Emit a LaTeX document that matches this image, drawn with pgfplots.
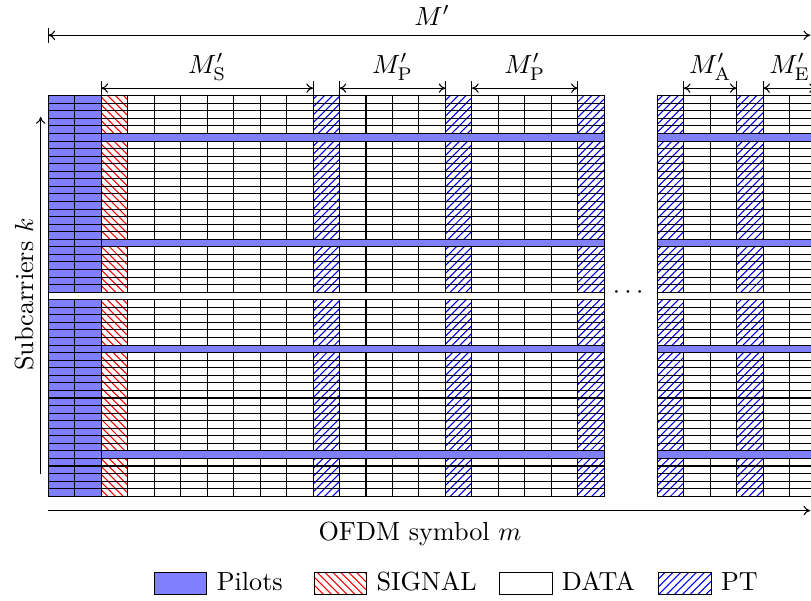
\documentclass[border=0pt]{standalone}
\usepackage{pgfplots}
\pgfplotsset{compat=1.18}
\usetikzlibrary{patterns,arrows.meta}
\definecolor{pilot}{RGB}{128,128,255}
\begin{document}
\begin{tikzpicture}[>={To[length=2.6pt,width=3.6pt]}]
\begin{axis}[
  scale only axis, width=309.6pt, height=229.4pt,
  xmin=-1.824, xmax=28.807, ymin=-13.853, ymax=65.666,
  hide axis, clip=true,
  unbounded coords=jump,
  every axis plot/.append style={thin, mark=none},
  legend columns=4,
  legend image code/.code={\draw[#1] (0pt,-4.2pt) rectangle (20pt,4.2pt);},
  legend style={draw=none, fill=none, inner sep=0pt, outer sep=0pt,
    at={(axis cs:3.99,-11.51)}, anchor=west,
    /tikz/every odd column/.append style={column sep=3.6pt},
    /tikz/column 2/.append style={column sep=11.8pt},
    /tikz/column 4/.append style={column sep=8.5pt},
    /tikz/column 6/.append style={column sep=8.8pt},
    nodes={inner sep=0pt, anchor=west}},
]
% ---- column fills ----
\addplot[forget plot, fill=pilot, draw=none] coordinates {(0,0) (2,0) (2,53) (0,53)} -- cycle;
\addplot[forget plot, draw=none, pattern=north west lines, pattern color=red] coordinates {(2,0) (3,0) (3,53) (2,53)} -- cycle;
\addplot[forget plot, draw=none, pattern=north east lines, pattern color=blue] coordinates {(10,0) (11,0) (11,53) (10,53)} -- cycle;
\addplot[forget plot, draw=none, pattern=north east lines, pattern color=blue] coordinates {(15,0) (16,0) (16,53) (15,53)} -- cycle;
\addplot[forget plot, draw=none, pattern=north east lines, pattern color=blue] coordinates {(20,0) (21,0) (21,53) (20,53)} -- cycle;
\addplot[forget plot, draw=none, pattern=north east lines, pattern color=blue] coordinates {(23,0) (24,0) (24,53) (23,53)} -- cycle;
\addplot[forget plot, draw=none, pattern=north east lines, pattern color=blue] coordinates {(26,0) (27,0) (27,53) (26,53)} -- cycle;
% ---- horizontal grid lines (subcarrier boundaries) ----
\addplot[forget plot, black] coordinates {
(0,0) (29,0) (nan,nan) (0,1) (29,1) (nan,nan) (0,2) (29,2) (nan,nan) (0,3) (29,3) (nan,nan)
(0,4) (29,4) (nan,nan) (0,5) (29,5) (nan,nan) (0,6) (29,6) (nan,nan) (0,7) (29,7) (nan,nan)
(0,8) (29,8) (nan,nan) (0,9) (29,9) (nan,nan) (0,10) (29,10) (nan,nan) (0,11) (29,11) (nan,nan)
(0,12) (29,12) (nan,nan) (0,13) (29,13) (nan,nan) (0,14) (29,14) (nan,nan) (0,15) (29,15) (nan,nan)
(0,16) (29,16) (nan,nan) (0,17) (29,17) (nan,nan) (0,18) (29,18) (nan,nan) (0,19) (29,19) (nan,nan)
(0,20) (29,20) (nan,nan) (0,21) (29,21) (nan,nan) (0,22) (29,22) (nan,nan) (0,23) (29,23) (nan,nan)
(0,24) (29,24) (nan,nan) (0,25) (29,25) (nan,nan) (0,26) (29,26) (nan,nan) (0,27) (29,27) (nan,nan)
(0,28) (29,28) (nan,nan) (0,29) (29,29) (nan,nan) (0,30) (29,30) (nan,nan) (0,31) (29,31) (nan,nan)
(0,32) (29,32) (nan,nan) (0,33) (29,33) (nan,nan) (0,34) (29,34) (nan,nan) (0,35) (29,35) (nan,nan)
(0,36) (29,36) (nan,nan) (0,37) (29,37) (nan,nan) (0,38) (29,38) (nan,nan) (0,39) (29,39) (nan,nan)
(0,40) (29,40) (nan,nan) (0,41) (29,41) (nan,nan) (0,42) (29,42) (nan,nan) (0,43) (29,43) (nan,nan)
(0,44) (29,44) (nan,nan) (0,45) (29,45) (nan,nan) (0,46) (29,46) (nan,nan) (0,47) (29,47) (nan,nan)
(0,48) (29,48) (nan,nan) (0,49) (29,49) (nan,nan) (0,50) (29,50) (nan,nan) (0,51) (29,51) (nan,nan)
(0,52) (29,52) (nan,nan) (0,53) (29,53)
};
% ---- gap between the two blocks ----
\addplot[forget plot, fill=white, draw=none] coordinates {(21.02,-0.5) (22.98,-0.5) (22.98,53.5) (21.02,53.5)} -- cycle;
% ---- vertical grid lines (OFDM symbol boundaries) ----
\addplot[forget plot, black] coordinates {
(0,0) (0,53) (nan,nan) (1,0) (1,53) (nan,nan) (2,0) (2,53) (nan,nan) (3,0) (3,53) (nan,nan)
(4,0) (4,53) (nan,nan) (5,0) (5,53) (nan,nan) (6,0) (6,53) (nan,nan) (7,0) (7,53) (nan,nan)
(8,0) (8,53) (nan,nan) (9,0) (9,53) (nan,nan) (10,0) (10,53) (nan,nan) (11,0) (11,53) (nan,nan)
(12,0) (12,53) (nan,nan) (13,0) (13,53) (nan,nan) (14,0) (14,53) (nan,nan) (15,0) (15,53) (nan,nan)
(16,0) (16,53) (nan,nan) (17,0) (17,53) (nan,nan) (18,0) (18,53) (nan,nan) (19,0) (19,53) (nan,nan)
(20,0) (20,53) (nan,nan) (21,0) (21,53) (nan,nan)
(23,0) (23,53) (nan,nan) (24,0) (24,53) (nan,nan) (25,0) (25,53) (nan,nan) (26,0) (26,53) (nan,nan)
(27,0) (27,53) (nan,nan) (28,0) (28,53) (nan,nan) (29,0) (29,53)
};
% ---- pilot subcarriers ----
\addplot[forget plot, fill=pilot, draw=black] coordinates {(2,5) (21,5) (21,6) (2,6)} -- cycle;
\addplot[forget plot, fill=pilot, draw=black] coordinates {(2,19) (21,19) (21,20) (2,20)} -- cycle;
\addplot[forget plot, fill=pilot, draw=black] coordinates {(2,33) (21,33) (21,34) (2,34)} -- cycle;
\addplot[forget plot, fill=pilot, draw=black] coordinates {(2,47) (21,47) (21,48) (2,48)} -- cycle;
\addplot[forget plot, fill=pilot, draw=black] coordinates {(23,5) (29.5,5) (29.5,6) (23,6)} -- cycle;
\addplot[forget plot, fill=pilot, draw=black] coordinates {(23,19) (29.5,19) (29.5,20) (23,20)} -- cycle;
\addplot[forget plot, fill=pilot, draw=black] coordinates {(23,33) (29.5,33) (29.5,34) (23,34)} -- cycle;
\addplot[forget plot, fill=pilot, draw=black] coordinates {(23,47) (29.5,47) (29.5,48) (23,48)} -- cycle;
% ---- DC subcarrier ----
\addplot[forget plot, fill=white, draw=black] coordinates {(0,26) (21,26) (21,27) (0,27)} -- cycle;
\addplot[forget plot, fill=white, draw=black] coordinates {(23,26) (29.5,26) (29.5,27) (23,27)} -- cycle;
% ---- dimension arrows ----
\addplot[forget plot, black, <->] coordinates {(0,61) (28.78,61)};
\addplot[forget plot, black] coordinates {(0,60) (0,62)};
\addplot[forget plot, black, <->] coordinates {(2,54) (10,54)};
\addplot[forget plot, black, <->] coordinates {(11,54) (15,54)};
\addplot[forget plot, black, <->] coordinates {(16,54) (20,54)};
\addplot[forget plot, black, <->] coordinates {(24,54) (26,54)};
\addplot[forget plot, black, <->] coordinates {(27,54) (29,54)};
\addplot[forget plot, black] coordinates {
(2,53) (2,55) (nan,nan) (10,53) (10,55) (nan,nan) (11,53) (11,55) (nan,nan)
(15,53) (15,55) (nan,nan) (16,53) (16,55) (nan,nan) (20,53) (20,55) (nan,nan)
(24,53) (24,55) (nan,nan) (26,53) (26,55) (nan,nan) (27,53) (27,55) (nan,nan) (29,53) (29,55)
};
% ---- axes arrows ----
\addplot[forget plot, black, ->] coordinates {(-0.287,3) (-0.287,50.2)};
\addplot[forget plot, black, ->] coordinates {(0,-1.9) (28.78,-1.9)};
% ---- labels ----
\node[anchor=base] at (axis cs:14.5,62.3) {$M'$};
\node[anchor=base] at (axis cs:6,56.0) {$M'_{\mathrm{S}}$};
\node[anchor=base] at (axis cs:13,56.0) {$M'_{\mathrm{P}}$};
\node[anchor=base] at (axis cs:18,56.0) {$M'_{\mathrm{P}}$};
\node[anchor=base] at (axis cs:25,56.0) {$M'_{\mathrm{A}}$};
\node[anchor=base] at (axis cs:28,56.0) {$M'_{\mathrm{E}}$};
\node[anchor=base] at (axis cs:21.9,26.1) {$\cdots$};
\node[anchor=base, rotate=90] at (axis cs:-0.57,26.7) {Subcarriers $k$};
\node[anchor=base] at (axis cs:14.04,-5.9) {OFDM symbol $m$};
\coordinate (sw) at (rel axis cs:0,0);
\coordinate (ne) at (rel axis cs:1,1);
% ---- legend ----
\addlegendimage{fill=pilot, draw=black}
\addlegendentry{Pilots}
\addlegendimage{pattern=north west lines, pattern color=red, draw=black}
\addlegendentry{SIGNAL}
\addlegendimage{fill=white, draw=black}
\addlegendentry{DATA}
\addlegendimage{pattern=north east lines, pattern color=blue, draw=black}
\addlegendentry{PT}
\end{axis}
\pgfresetboundingbox
\useasboundingbox (sw) rectangle (ne);
\end{tikzpicture}
\end{document}
